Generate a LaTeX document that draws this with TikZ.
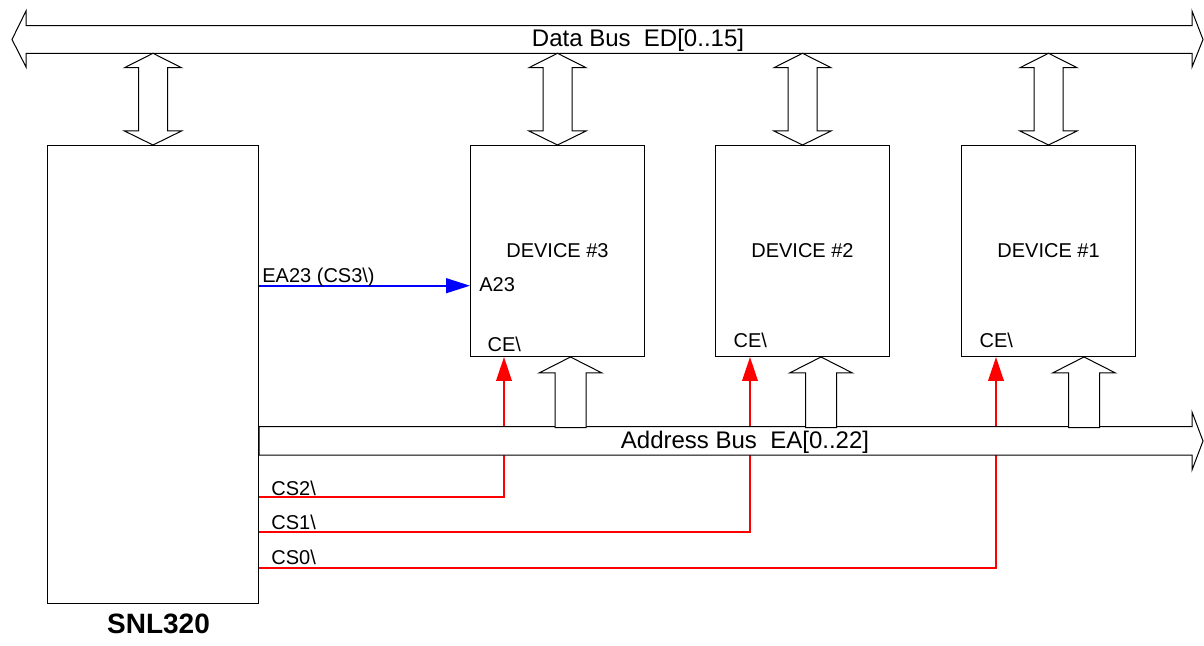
\documentclass[tikz,border=0pt]{standalone}
\usepackage{fontspec}
\setmainfont{Liberation Sans}
\usepackage{tikz}
\usetikzlibrary{arrows.meta, positioning, calc}
\definecolor{cscolor}{RGB}{255, 0, 0}
\definecolor{eacolor}{RGB}{0, 0, 255}

\begin{document}
\begin{tikzpicture}[
    x=0.5pt, y=-0.5pt,
    chip/.style={draw, line width=0.5pt, anchor=north west, inner sep=0pt, font=\fontsize{10}{12}\selectfont},
    device/.style={chip, minimum width=87pt, minimum height=105.5pt},
    busarrow/.style={draw, fill=white, line width=0.5pt, line join=miter},
    buslabel/.style={font=\fontsize{12}{14}\selectfont, inner sep=0pt, anchor=base},
    sig/.style={font=\fontsize{10}{12}\selectfont, inner sep=0pt, anchor=base west},
    csline/.style={draw=cscolor, line width=1pt, -{Triangle[length=12pt, width=7.8pt]}},
    ealine/.style={draw=eacolor, line width=1pt, -{Triangle[length=12pt, width=7.4pt]}},
]
    \useasboundingbox (0,0) rectangle (1204,646);

    % Chips
    \node[chip, minimum width=105.5pt, minimum height=229pt] (snl) at (47,145) {};
    \node[font=\fontsize{14}{16}\selectfont\bfseries, inner sep=0pt, below=5pt of snl, xshift=2.75pt] (snllbl) {SNL320};

    \node[device] (dev3) at (470,145) {DEVICE \#3};
    \node[device] (dev2) at (715,145) {DEVICE \#2};
    \node[device] (dev1) at (961,145) {DEVICE \#1};

    % Pins
    \coordinate (ce3) at ($(dev3.south west)+(34,0)$);
    \coordinate (ce2) at ($(dev2.south west)+(35,0)$);
    \coordinate (ce1) at ($(dev1.south west)+(35,0)$);
    \coordinate (a23pin) at (dev3.west |- 0,285.7);
    \coordinate (cs2) at (snl.east |- 0,497);
    \coordinate (cs1) at (snl.east |- 0,532);
    \coordinate (cs0) at (snl.east |- 0,567.7);

    % Chip select lines
    \draw[csline] (cs2) -| (ce3);
    \draw[csline] (cs1) -| (ce2);
    \draw[csline] (cs0) -| (ce1);

    % EA23 line
    \draw[ealine] (snl.east |- a23pin) -- (a23pin);

    % Data bus
    \draw[busarrow] (12,39.5) -- (26,11) -- (26,25.7) -- (1192,25.7) -- (1192,11) -- (1203,39.5)
        -- (1192,67) -- (1192,53.3) -- (26,53.3) -- (26,67) -- cycle;
    \node[buslabel] (dblbl) at (638,46.7) {Data Bus~~ED[0..15]};

    \foreach \b in {snl,dev3,dev2,dev1}
        \draw[busarrow] (\b.north) -- ++(-28.5,-14) -- ++(14,0) -- ++(0,-63.3) -- ++(-14,0) -- ++(28.5,-14.4)
            -- ++(28.5,14.4) -- ++(-14,0) -- ++(0,63.3) -- ++(14,0) -- cycle;

    % Address bus
    \draw[busarrow] (snl.east |- 0,426.7) -- (1192,426.7) -- (1192,412) -- (1203,441) -- (1192,470)
        -- (1192,455) -- (snl.east |- 0,455) -- cycle;
    \node[buslabel] (ablbl) at (745,448) {Address Bus~~EA[0..22]};

    \foreach \b/\off in {dev3/100.5, dev2/106, dev1/123}
        \draw[busarrow] ($(\b.south west)+(\off,0)$) -- ++(-31.5,16) -- ++(16,0) -- ++(0,54.7)
            -- ++(31,0) -- ++(0,-54.7) -- ++(16,0) -- cycle;

    % Signal labels
    \node[sig] (ealbl) at (262,283) {EA23 (CS3\textbackslash)};
    \node[sig] (a23lbl) at (479,291.7) {A23};
    \node[sig] (ce3lbl) at (487.3,351.7) {CE\textbackslash};
    \node[sig] (ce2lbl) at (733.3,348) {CE\textbackslash};
    \node[sig] (ce1lbl) at (979.3,348) {CE\textbackslash};
    \node[sig] (cs2lbl) at (271,495.5) {CS2\textbackslash};
    \node[sig] (cs1lbl) at (271,529.5) {CS1\textbackslash};
    \node[sig] (cs0lbl) at (271,564.5) {CS0\textbackslash};

\end{tikzpicture}
\end{document}
